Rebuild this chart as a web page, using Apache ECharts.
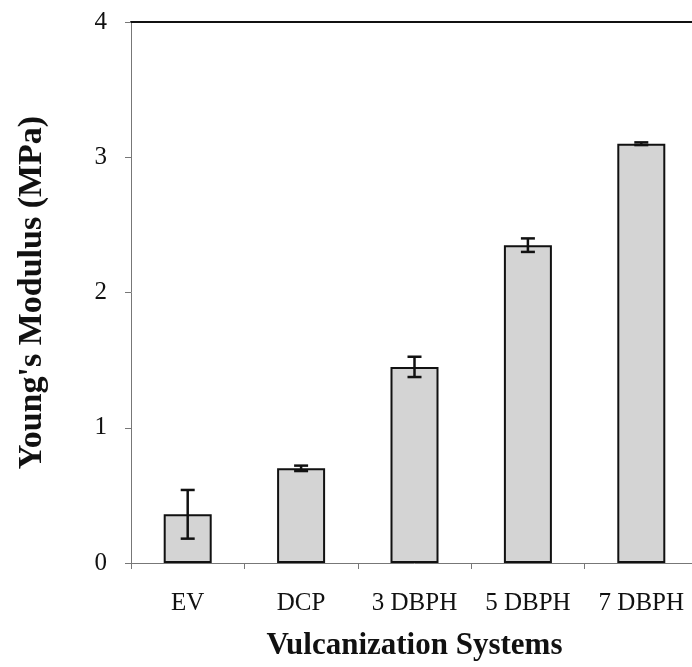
<!DOCTYPE html>
<html>
<head>
<meta charset="utf-8">
<script src="https://cdn.jsdelivr.net/npm/echarts@6/dist/echarts.min.js"></script>
<style>
  html, body { margin: 0; padding: 0; background: #fff; overflow: hidden; }
  /* the original plot runs a few pixels past the right edge of the picture */
  #chart { width: 698px; height: 667px; }
</style>
</head>
<body>
<div id="chart"></div>
<script>
const categories = ['EV', 'DCP', '3 DBPH', '5 DBPH', '7 DBPH']
const modulus = [0.36, 0.70, 1.45, 2.35, 3.10]
const modulusErr = [0.18, 0.02, 0.075, 0.05, 0.01]
const yTicks = [0, 1, 2, 3, 4]

const serif = '"Liberation Serif", "DejaVu Serif", serif'
const chart = echarts.init(document.getElementById('chart'))

const errorData = modulus.map((v, i) => [i, v - modulusErr[i], v + modulusErr[i]])

const option = {
  animation: false,
  grid: { left: 131, right: 0, top: 22, bottom: 104 },
  xAxis: [
    {
      type: 'category',
      data: categories,
      name: 'Vulcanization Systems',
      nameLocation: 'middle',
      nameGap: 67,
      nameTextStyle: { fontFamily: serif, fontSize: 31, fontWeight: 'bold', color: '#111' },
      axisLine: { lineStyle: { color: '#777', width: 1 } },
      axisTick: { show: true, alignWithLabel: false, length: 6, lineStyle: { color: '#777' } },
      axisLabel: { margin: 28, fontFamily: serif, fontSize: 25, color: '#111' }
    },
    {
      type: 'category',
      data: categories,
      position: 'top',
      axisLine: { lineStyle: { color: '#111', width: 2 } },
      axisTick: { show: false },
      axisLabel: { show: false }
    }
  ],
  yAxis: {
    type: 'value',
    min: yTicks[0],
    max: yTicks[yTicks.length - 1],
    interval: 1,
    name: "Young's Modulus (MPa)",
    nameLocation: 'middle',
    nameGap: 82,
    nameRotate: 90,
    nameTextStyle: { fontFamily: serif, fontSize: 34, fontWeight: 'bold', color: '#111' },
    axisLine: { show: true, lineStyle: { color: '#777', width: 1 } },
    axisTick: { show: true, inside: false, length: 6, lineStyle: { color: '#777' } },
    axisLabel: { margin: 24, fontFamily: serif, fontSize: 25, color: '#111' },
    splitLine: { show: false }
  },
  series: [
    {
      type: 'bar',
      data: modulus,
      barWidth: 48,
      itemStyle: { color: '#d4d4d4', borderColor: '#111', borderWidth: 2 }
    },
    {
      type: 'custom',
      data: errorData,
      z: 10,
      renderItem: function (params, api) {
        const lo = api.coord([api.value(0), api.value(1)])
        const hi = api.coord([api.value(0), api.value(2)])
        const half = 7
        const style = { stroke: '#111', lineWidth: 2.5 }
        return {
          type: 'group',
          children: [
            { type: 'line', shape: { x1: hi[0], y1: hi[1], x2: lo[0], y2: lo[1] }, style: style },
            { type: 'line', shape: { x1: hi[0] - half, y1: hi[1], x2: hi[0] + half, y2: hi[1] }, style: style },
            { type: 'line', shape: { x1: lo[0] - half, y1: lo[1], x2: lo[0] + half, y2: lo[1] }, style: style }
          ]
        }
      }
    }
  ]
}

chart.setOption(option)
</script>
</body>
</html>
